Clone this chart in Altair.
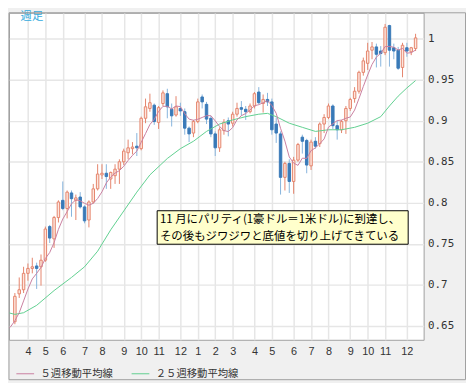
import json
import altair as alt
import pandas as pd

# ---- weekly AUD/USD candles (index 0 = week of 2009-03-16) ----
open_ = [0.655, 0.689, 0.694, 0.714, 0.720, 0.723, 0.722, 0.730, 0.771, 0.756,
         0.782, 0.803, 0.793, 0.812, 0.803, 0.807, 0.795, 0.779, 0.801, 0.817,
         0.834, 0.836, 0.829, 0.833, 0.841, 0.850, 0.861, 0.866, 0.869, 0.866,
         0.903, 0.915, 0.919, 0.898, 0.921, 0.933, 0.914, 0.907, 0.915, 0.911,
         0.891, 0.885, 0.899, 0.929, 0.920, 0.903, 0.884, 0.867, 0.888, 0.900,
         0.897, 0.908, 0.916, 0.914, 0.911, 0.918, 0.935, 0.921, 0.926, 0.923,
         0.896, 0.884, 0.831, 0.848, 0.826, 0.852, 0.880, 0.876, 0.845, 0.875,
         0.872, 0.896, 0.904, 0.918, 0.894, 0.889, 0.900, 0.915, 0.927, 0.936,
         0.959, 0.970, 0.986, 0.990, 0.985, 0.983, 1.016, 0.989, 0.986, 0.965,
         0.989, 0.984, 0.988]
high = [0.690, 0.709, 0.722, 0.726, 0.733, 0.727, 0.737, 0.771, 0.773, 0.784,
        0.803, 0.826, 0.815, 0.815, 0.810, 0.813, 0.797, 0.803, 0.823, 0.847,
        0.847, 0.847, 0.838, 0.847, 0.853, 0.866, 0.877, 0.874, 0.885, 0.905,
        0.927, 0.933, 0.921, 0.918, 0.937, 0.939, 0.921, 0.930, 0.922, 0.915,
        0.893, 0.901, 0.927, 0.932, 0.923, 0.906, 0.887, 0.892, 0.902, 0.904,
        0.911, 0.922, 0.924, 0.918, 0.921, 0.935, 0.941, 0.932, 0.934, 0.927,
        0.904, 0.887, 0.850, 0.853, 0.856, 0.873, 0.883, 0.878, 0.877, 0.880,
        0.898, 0.908, 0.921, 0.920, 0.900, 0.901, 0.918, 0.928, 0.941, 0.961,
        0.977, 0.995, 0.996, 0.994, 0.991, 1.018, 1.017, 0.994, 0.990, 0.995,
        0.995, 0.990, 1.006]
low = [0.652, 0.684, 0.690, 0.705, 0.714, 0.695, 0.699, 0.728, 0.751, 0.745,
       0.776, 0.791, 0.781, 0.783, 0.779, 0.793, 0.775, 0.770, 0.799, 0.815,
       0.829, 0.817, 0.817, 0.823, 0.823, 0.846, 0.853, 0.859, 0.857, 0.864,
       0.897, 0.911, 0.895, 0.890, 0.918, 0.903, 0.893, 0.905, 0.906, 0.883,
       0.874, 0.880, 0.897, 0.915, 0.896, 0.880, 0.857, 0.862, 0.883, 0.881,
       0.893, 0.905, 0.906, 0.901, 0.909, 0.915, 0.920, 0.910, 0.918, 0.883,
       0.873, 0.810, 0.815, 0.812, 0.811, 0.850, 0.860, 0.836, 0.840, 0.866,
       0.868, 0.885, 0.902, 0.890, 0.877, 0.885, 0.884, 0.912, 0.922, 0.933,
       0.955, 0.962, 0.975, 0.965, 0.966, 0.980, 0.966, 0.975, 0.962, 0.953,
       0.978, 0.980, 0.985]
close = [0.686, 0.694, 0.714, 0.720, 0.722, 0.720, 0.730, 0.768, 0.757, 0.782,
         0.801, 0.793, 0.813, 0.805, 0.806, 0.795, 0.778, 0.801, 0.817, 0.835,
         0.836, 0.832, 0.837, 0.841, 0.850, 0.863, 0.867, 0.868, 0.867, 0.903,
         0.917, 0.922, 0.899, 0.916, 0.934, 0.917, 0.906, 0.917, 0.912, 0.891,
         0.884, 0.899, 0.923, 0.923, 0.902, 0.884, 0.867, 0.889, 0.898, 0.896,
         0.908, 0.915, 0.914, 0.911, 0.918, 0.933, 0.922, 0.926, 0.923, 0.889,
         0.885, 0.831, 0.848, 0.826, 0.852, 0.871, 0.875, 0.846, 0.874, 0.869,
         0.896, 0.904, 0.918, 0.894, 0.889, 0.899, 0.915, 0.926, 0.936, 0.959,
         0.973, 0.985, 0.990, 0.981, 0.982, 1.014, 0.986, 0.985, 0.964, 0.992,
         0.985, 0.989, 1.001]
# closes of the 4 weeks before the first visible candle (needed by the 5-week average)
prior_close = [0.645, 0.642, 0.648, 0.660]

# 25-week moving average at these week indexes
ma25_idx = [-1.5, 0, 2, 5, 9, 13, 16, 19, 22, 25, 28, 31, 35, 38, 41, 44, 47, 50,
            53, 56, 58, 60, 63, 66, 69, 72, 75, 78, 81, 84, 86, 88, 90, 92]
ma25_val = [0.666, 0.664, 0.666, 0.675, 0.693, 0.709, 0.722, 0.741, 0.767, 0.790,
            0.813, 0.834, 0.854, 0.866, 0.875, 0.887, 0.896, 0.901, 0.905, 0.908,
            0.909, 0.905, 0.897, 0.892, 0.887, 0.889, 0.889, 0.892, 0.897, 0.905,
            0.918, 0.930, 0.940, 0.949]

# x-axis: week index of the first week of each month, and its label
month_idx = [3, 7, 11, 16, 20, 25, 29, 33, 38, 42, 46, 50, 55, 59, 64, 68, 72, 77, 81, 85, 90]
month_lab = ["4", "5", "6", "7", "8", "9", "10", "11", "12", "1", "2", "3",
             "4", "5", "6", "7", "8", "9", "10", "11", "12"]
y_ticks = [0.65, 0.7, 0.75, 0.8, 0.85, 0.9, 0.95, 1.0]

series_names = ["５週移動平均線", "２５週移動平均線"]
note_lines = ["11 月にパリティ(1豪ドル＝1米ドル)に到達し、",
              "その後もジワジワと底値を切り上げてきている"]
corner_label = "週足"

# ---- styling ----
BULL_LINE = "#e5846c"
BULL_FILL = "#fde6de"
BEAR_FILL = "#3a7ab8"
BEAR_WICK = "#86b4dc"
PINK = "#c97fa0"
GREEN = "#5fcf8f"
GRID = "#e6e6e6"
FRAME = "#a0a0a0"
JP = "Noto Sans CJK JP"

xs = alt.Scale(domain=[-0.22, 92.72], nice=False, zero=False)
ys = alt.Scale(domain=[0.633, 1.0316], nice=False, zero=False)

label_expr = "{}[indexof({}, datum.value)]".format(json.dumps(month_lab), json.dumps(month_idx))
x_axis = alt.Axis(values=month_idx, labelExpr=label_expr, grid=True, gridColor=GRID,
                  gridWidth=1.5, ticks=False, domain=False, labelPadding=6,
                  labelFont="Liberation Sans", labelFontSize=11, labelColor="#333",
                  labelOverlap=False, labelFlush=False, minExtent=41, maxExtent=41,
                  title=None)
y_axis = alt.Axis(values=y_ticks, format="~g", orient="right", grid=True, gridColor=GRID,
                  gridWidth=1.5, ticks=False, domain=False, labelPadding=4,
                  labelFont="DejaVu Sans Mono", labelFontSize=11, labelColor="#333",
                  labelFlush=False, minExtent=43, maxExtent=43, title=None)


def X(field):
    return alt.X(field, type="quantitative", scale=xs, axis=x_axis)


def Y(field):
    return alt.Y(field, type="quantitative", scale=ys, axis=y_axis)


candles = pd.DataFrame({"i": list(range(len(close))), "o": open_, "h": high,
                        "l": low, "c": close})
ma_src = pd.DataFrame({
    "i": list(range(-len(prior_close), len(close))),
    "c": prior_close + close,
    "series": series_names[0],
})
ma25_df = pd.DataFrame({"i": ma25_idx, "v": ma25_val, "series": series_names[1]})

bull = "datum.c >= datum.o"

color_scale = alt.Scale(domain=series_names, range=[PINK, GREEN])
legend = alt.Legend(orient="none", legendX=7, legendY=357, direction="horizontal",
                    title=None, symbolType="stroke", symbolSize=324, symbolStrokeWidth=1,
                    labelFont=JP, labelFontSize=10.5, labelColor="#333", labelOffset=6,
                    columnPadding=16, padding=0)

wicks = alt.Chart(candles).mark_rule(strokeWidth=1, clip=True).encode(
    x=X("i"), y=Y("l"), y2="h",
    color=alt.condition(bull, alt.value(BULL_LINE), alt.value(BEAR_WICK)),
)
bodies = alt.Chart(candles).mark_bar(size=2.5, strokeWidth=1, clip=True).encode(
    x=X("i"), y=Y("o"), y2="c",
    fill=alt.condition(bull, alt.value(BULL_FILL), alt.value(BEAR_FILL)),
    stroke=alt.condition(bull, alt.value(BULL_LINE), alt.value(BEAR_FILL)),
)
ma5 = alt.Chart(ma_src).transform_window(
    ma5="mean(c)", frame=[-4, 0], sort=[alt.SortField("i")]
).mark_line(strokeWidth=1, clip=True).encode(
    x=X("i"), y=Y("ma5"),
    color=alt.Color("series:N", scale=color_scale, legend=legend),
)
ma25 = alt.Chart(ma25_df).mark_line(strokeWidth=1, clip=True).encode(
    x=X("i"), y=Y("v"),
    color=alt.Color("series:N", scale=color_scale, legend=legend),
)

box_df = pd.DataFrame({"x1": [32.67], "x2": [90.3], "y1": [0.7903], "y2": [0.7495]})
box = alt.Chart(box_df).mark_rect(fill="#ffffcc", stroke="black", strokeWidth=1).encode(
    x=X("x1"), x2="x2", y=Y("y1"), y2="y2",
)
note_df = pd.DataFrame({"x": [33.3, 33.3], "y": [0.7795, 0.7585], "t": note_lines})
note = alt.Chart(note_df).mark_text(align="left", baseline="middle", font=JP,
                                    fontSize=11.6, color="black").encode(
    x=X("x"), y=Y("y"), text="t:N",
)
corner_df = pd.DataFrame({"x": [1.32], "y": [1.0262], "t": [corner_label]})
corner = alt.Chart(corner_df).mark_text(align="left", baseline="middle", font=JP,
                                        fontSize=11.5, color="#33aadd").encode(
    x=X("x"), y=Y("y"), text="t:N",
)
# outer frame of the whole chart panel (plot + right axis strip + bottom strip)
frame = alt.Chart(pd.DataFrame({"k": [0]})).mark_rect(
    fill=None, stroke=FRAME, strokeWidth=1, clip=False
).encode(x=alt.value(0), x2=alt.value(463.5), y=alt.value(0), y2=alt.value(372.5))

chart = alt.layer(wicks, bodies, ma25, ma5, box, note, corner, frame).properties(
    width=421, height=332,
    padding={"left": 0, "top": 0, "right": 0, "bottom": 0},
).configure(background="#f0f0f0").configure_view(fill="white", stroke=FRAME,
                                                  strokeWidth=1)

chart.save("out.html", embed_options={"renderer": "svg", "actions": False})
